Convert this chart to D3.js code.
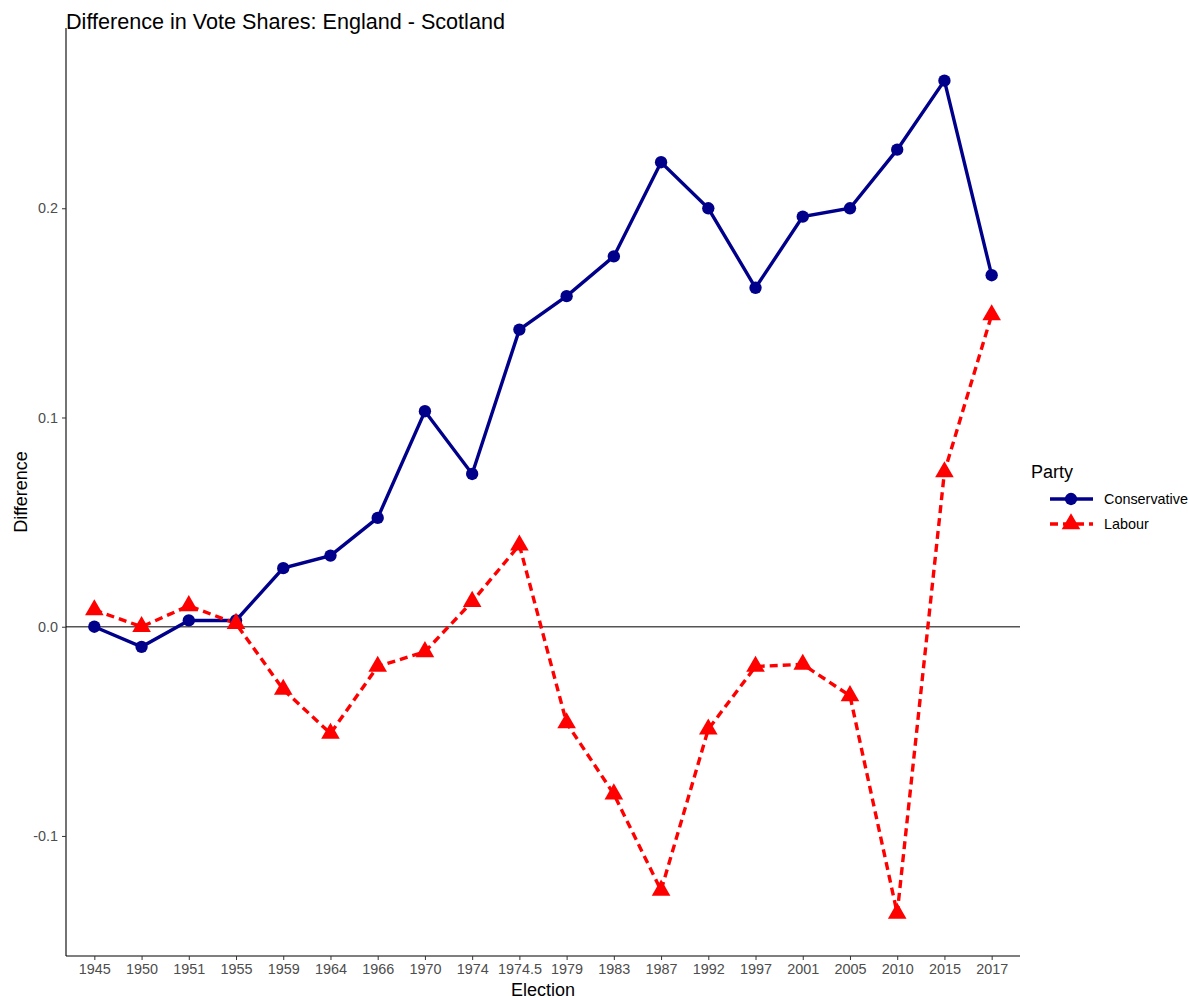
<!DOCTYPE html>
<html>
<head>
<meta charset="utf-8">
<title>Difference in Vote Shares</title>
<script src="https://cdn.jsdelivr.net/npm/d3@7"></script>
<style>
  html, body { margin: 0; padding: 0; background: #fff; }
  text { font-family: "Liberation Sans", Arial, sans-serif; }
</style>
</head>
<body>
<svg id="chart" width="1189" height="1000"></svg>
<script>
// election labels (discrete x axis)
var elections = ["1945","1950","1951","1955","1959","1964","1966","1970","1974","1974.5",
                 "1979","1983","1987","1992","1997","2001","2005","2010","2015","2017"];
// England minus Scotland vote share
var conservative = [0.000,-0.0096,0.003,0.003,0.028,0.034,0.052,0.103,0.073,0.142,
                    0.158,0.177,0.222,0.200,0.162,0.196,0.200,0.228,0.261,0.168];
var labour = [0.008,0.000,0.010,0.0015,-0.030,-0.051,-0.019,-0.012,0.012,0.039,
              -0.046,-0.080,-0.126,-0.049,-0.019,-0.018,-0.033,-0.137,0.074,0.149];
var yTicks = [-0.1, 0.0, 0.1, 0.2];

var svg = d3.select("#chart");
var pLeft = 66, pRight = 1020, pTop = 28, pBottom = 956;

// ggplot style discrete axis: 0.6 unit expansion each side
var x = d3.scalePoint().domain(elections).range([pLeft, pRight]).padding(0.6);

var all = conservative.concat(labour);
var lo = d3.min(all), hi = d3.max(all), pad = (hi - lo) * 0.05;
var y = d3.scaleLinear().domain([lo - pad, hi + pad]).range([pBottom - 1, pTop + 11]);

// zero line
svg.append("line")
    .attr("x1", pLeft).attr("x2", pRight)
    .attr("y1", y(0)).attr("y2", y(0))
    .attr("stroke", "#555").attr("stroke-width", 1.4);

// axes
var fmt = d3.format(".1f");
var xAxis = svg.append("g").attr("transform", "translate(0," + pBottom + ")")
    .call(d3.axisBottom(x).tickSize(4).tickPadding(4));
var yAxis = svg.append("g").attr("transform", "translate(" + pLeft + ",0)")
    .call(d3.axisLeft(y).tickValues(yTicks).tickSize(4).tickPadding(4)
          .tickFormat(function(d) { return fmt(d).replace("\u2212", "-"); }));
xAxis.select(".domain").attr("d", "M" + pLeft + ",0H" + pRight);
yAxis.select(".domain").attr("d", "M0," + pTop + "V" + pBottom);
[xAxis, yAxis].forEach(function(g) {
    g.select(".domain").attr("stroke", "#000").attr("stroke-width", 1.1);
    g.selectAll(".tick line").attr("stroke", "#333");
    g.selectAll(".tick text").attr("fill", "#4d4d4d").style("font-size", "14.4px")
        .style("font-family", "'Liberation Sans', Arial, sans-serif");
});

// series
var series = [
    { name: "Conservative", values: conservative, color: "#00008b", dash: null, shape: d3.symbolCircle, size: 120 },
    { name: "Labour", values: labour, color: "#ff0000", dash: "8,5", shape: d3.symbolTriangle, size: 150 }
];

var line = d3.line()
    .x(function(d, i) { return x(elections[i]); })
    .y(function(d) { return y(d); });

series.forEach(function(s) {
    svg.append("path")
        .datum(s.values)
        .attr("d", line)
        .attr("fill", "none")
        .attr("stroke", s.color)
        .attr("stroke-width", 3.4)
        .attr("stroke-dasharray", s.dash);
});
series.forEach(function(s) {
    svg.append("g").selectAll("path")
        .data(s.values)
        .enter().append("path")
        .attr("d", d3.symbol().type(s.shape).size(s.size))
        .attr("transform", function(d, i) { return "translate(" + x(elections[i]) + "," + y(d) + ")"; })
        .attr("fill", s.color);
});

// title and axis titles
svg.append("text").attr("x", 66).attr("y", 29)
    .style("font-size", "21.6px").attr("fill", "#000")
    .text("Difference in Vote Shares: England - Scotland");
svg.append("text").attr("x", (pLeft + pRight) / 2).attr("y", 996)
    .attr("text-anchor", "middle").style("font-size", "18px")
    .text("Election");
svg.append("text")
    .attr("transform", "translate(27," + ((pTop + pBottom) / 2) + ") rotate(-90)")
    .attr("text-anchor", "middle").style("font-size", "18px")
    .text("Difference");

// legend
var lg = svg.append("g").attr("transform", "translate(1031,0)");
lg.append("text").attr("x", 0).attr("y", 478).style("font-size", "18px").text("Party");
series.forEach(function(s, i) {
    var cy = 499 + i * 25;
    lg.append("line").attr("x1", 19).attr("x2", 62).attr("y1", cy).attr("y2", cy)
        .attr("stroke", s.color).attr("stroke-width", 3.4)
        .attr("stroke-dasharray", s.dash);
    lg.append("path").attr("d", d3.symbol().type(s.shape).size(s.size))
        .attr("transform", "translate(40," + cy + ")").attr("fill", s.color);
    lg.append("text").attr("x", 73).attr("y", cy + 5).style("font-size", "14.4px")
        .attr("fill", "#000").text(s.name);
});
</script>
</body>
</html>
